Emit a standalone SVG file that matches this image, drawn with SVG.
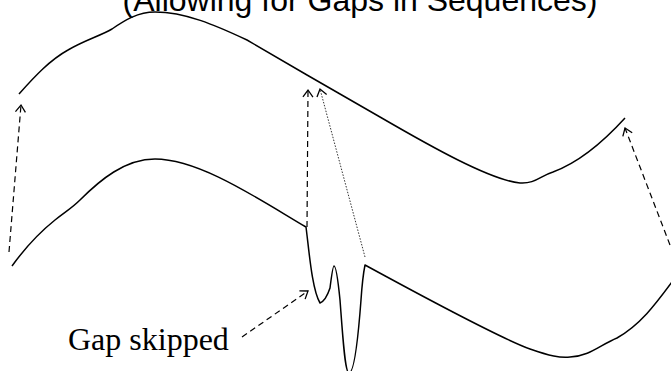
<svg xmlns="http://www.w3.org/2000/svg" width="671" height="371" viewBox="0 0 671 371">
  <style>
    .curve { fill: none; stroke: #000; stroke-width: 1.5; stroke-linejoin: round; }
    .dash { fill: none; stroke: #000; stroke-width: 1.2; stroke-dasharray: 6 4; }
    .dot { fill: none; stroke: #333; stroke-width: 1; stroke-dasharray: 1.5 1.5; }
    .title { font-family: "Liberation Sans", Arial, sans-serif; font-size: 32px; fill: #000; }
    .label { font-family: "Liberation Serif", "Times New Roman", serif; font-size: 32px; fill: #000; }
  </style>
  <defs>
    <marker id="open" markerUnits="userSpaceOnUse" viewBox="-8 -6 10 12" refX="0" refY="0" markerWidth="10" markerHeight="12" orient="auto">
      <path d="M-7,-5 L0,0 L-7,5" fill="none" stroke="#000" stroke-width="1.3"/>
    </marker>
  </defs>
  <rect width="671" height="371" fill="#fff"/>
  <text class="title" x="360" y="11" text-anchor="middle">(Allowing for Gaps in Sequences)</text>
  <g id="sequence-top">
    <path class="curve" d="M19,94 C35,76 50,60 68,50 C85,40 100,36 112,29 C125,20 138,12 155,12 C185,12 215,25 247,40 L307,75 L380,117 C430,146 490,180 520,183 C535,184 540,176 553,172 C580,162 605,140 625,118"/>
  </g>
  <g id="sequence-bottom">
    <path class="curve" d="M12,266 C25,248 40,232 55,220 C65,212 72,208 80,200 C100,180 125,159 155,159 C200,159 260,200 306,227 C309,250 312,290 320,303 C325,301 328,294 330,288 C332,272 333,266 334,266 C336,266 338,280 340,300 C343,340 345,373 349,373 C354,373 358,340 361,300 C362,285 364,270 365,265 C420,295 500,338 530,349 C550,356 560,358 570,357 C590,356 600,345 617,338 C640,325 655,305 672,282"/>
  </g>
  <g id="label-gap">
    <text class="label" x="68" y="350">Gap skipped</text>
  </g>
  <g id="connectors">
    <line class="dash" x1="9" y1="252" x2="21" y2="105" marker-end="url(#open)"/>
    <line class="dash" x1="307" y1="227" x2="308" y2="90" marker-end="url(#open)"/>
    <line class="dot" x1="365" y1="257" x2="320" y2="89" marker-end="url(#open)"/>
    <line class="dash" x1="670" y1="245" x2="625" y2="128" marker-end="url(#open)"/>
    <line class="dash" x1="242" y1="337" x2="308" y2="291" marker-end="url(#open)"/>
  </g>
</svg>
